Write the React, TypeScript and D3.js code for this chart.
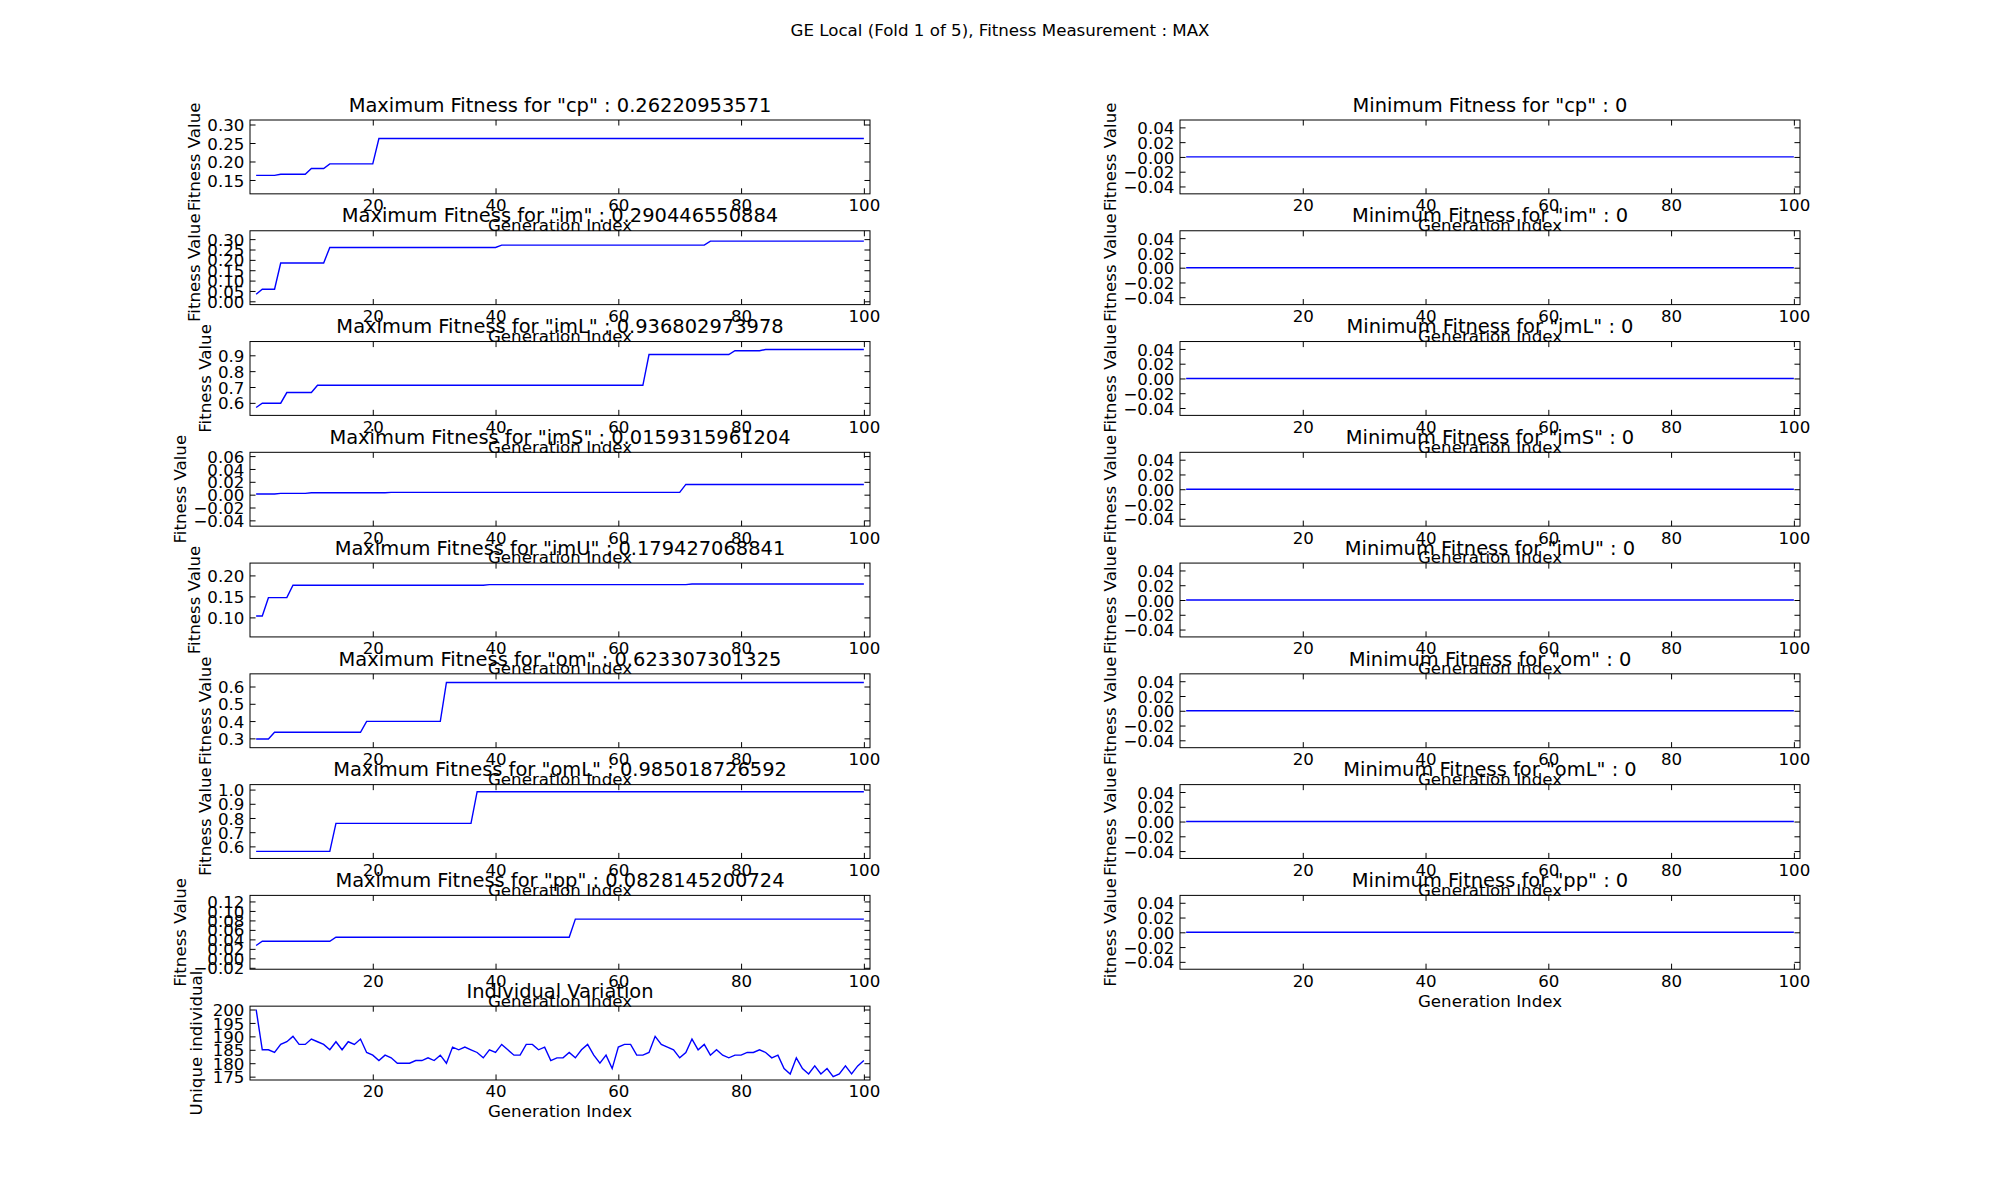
import { useEffect, useRef } from 'react';
import * as d3 from 'd3';

// figure text
const suptitle = 'GE Local (Fold 1 of 5), Fitness Measurement : MAX';
const datasets = ['cp', 'im', 'imL', 'imS', 'imU', 'om', 'omL', 'pp'];
const bestFitness = ['0.26220953571', '0.290446550884', '0.936802973978', '0.0159315961204',
    '0.179427068841', '0.623307301325', '0.985018726592', '0.0828145200724'];

// max fitness per generation, stored as runs: [first generation, last generation, value]
const cpMax = [[1, 4, 0.1625], [5, 9, 0.1655], [10, 12, 0.181], [13, 20, 0.1935], [21, 100, 0.2622]];
const imMax = [[1, 1, 0.034], [2, 4, 0.058], [5, 12, 0.185], [13, 40, 0.26], [41, 74, 0.271], [75, 100, 0.2904]];
const imLMax = [[1, 1, 0.571], [2, 5, 0.598], [6, 10, 0.665], [11, 64, 0.711], [65, 78, 0.905], [79, 83, 0.929], [84, 100, 0.9368]];
const imSMax = [[1, 4, 0.001], [5, 9, 0.002], [10, 22, 0.003], [23, 70, 0.0035], [71, 100, 0.0159]];
const imUMax = [[1, 2, 0.1035], [3, 6, 0.147], [7, 38, 0.1765], [39, 71, 0.178], [72, 100, 0.1794]];
const omMax = [[1, 3, 0.296], [4, 18, 0.335], [19, 31, 0.398], [32, 100, 0.6233]];
const omLMax = [[1, 13, 0.565], [14, 36, 0.762], [37, 100, 0.985]];
const ppMax = [[1, 1, 0.027], [2, 13, 0.036], [14, 52, 0.0445], [53, 100, 0.0828]];
const maxRuns = [cpMax, imMax, imLMax, imSMax, imUMax, omMax, omLMax, ppMax];

// min fitness is 0 for every dataset
const minFitness = [[1, 100, 0]];

const maxTicks = [
    [0.15, 0.2, 0.25, 0.3],
    [0, 0.05, 0.1, 0.15, 0.2, 0.25, 0.3],
    [0.6, 0.7, 0.8, 0.9],
    [-0.04, -0.02, 0, 0.02, 0.04, 0.06],
    [0.1, 0.15, 0.2],
    [0.3, 0.4, 0.5, 0.6],
    [0.6, 0.7, 0.8, 0.9, 1.0],
    [-0.02, 0, 0.02, 0.04, 0.06, 0.08, 0.1, 0.12],
];
const maxTickDecimals = [2, 2, 1, 2, 2, 1, 1, 2];
const minTicks = [-0.04, -0.02, 0, 0.02, 0.04];
const xTicks = [20, 40, 60, 80, 100];

// unique individuals per generation
const uniqueIndividuals = [
    200, 185, 185, 184, 187, 188, 190, 187, 187, 189,
    188, 187, 185, 188, 185, 188, 187, 189, 184, 183,
    181, 183, 182, 180, 180, 180, 181, 181, 182, 181,
    183, 180, 186, 185, 186, 185, 184, 182, 185, 184,
    187, 185, 183, 183, 187, 187, 185, 186, 181, 182,
    182, 184, 182, 185, 187, 183, 180, 183, 178, 186,
    187, 187, 183, 183, 184, 190, 187, 186, 185, 182,
    184, 189, 185, 187, 183, 185, 183, 182, 183, 183,
    184, 184, 185, 184, 182, 183, 178, 176, 182, 178,
    176, 179, 176, 178, 175, 176, 179, 176, 179, 181,
];
const uniqueTicks = [175, 180, 185, 190, 195, 200];

const W = 2000;
const H = 1200;
const FONT = 'DejaVu Sans';
const PT = 100 / 72;

const App = () => {
    const svgRef = useRef<SVGSVGElement | null>(null);

    useEffect(() => {
        const svg = d3.select(svgRef.current);
        svg.selectAll('*').remove();

        // subplot grid: 9 rows x 2 cols, mpl default params with hspace = wspace = 0.5
        const left = 0.125 * W, right = 0.9 * W, top = 0.1 * H, bottom = 0.9 * H;
        const rows = 9, cols = 2, gap = 0.5;
        const cellH = (bottom - top) / (rows + (rows - 1) * gap);
        const cellW = (right - left) / (cols + (cols - 1) * gap);

        svg.append('rect').attr('width', W).attr('height', H).attr('fill', 'white');

        svg.append('text')
            .attr('x', W / 2).attr('y', 36)
            .attr('text-anchor', 'middle')
            .attr('font-family', FONT).attr('font-size', 12 * PT)
            .text(suptitle);

        const x = d3.scaleLinear().domain([0, 101]);

        const drawPanel = (row: number, col: number, title: string, ylabel: string,
            pts: [number, number][], yDomain: number[], yTicks: number[], fmt: (v: number) => string,
            labelDescent: number) => {
            const x0 = left + col * cellW * (1 + gap);
            const y0 = top + row * cellH * (1 + gap);
            const xs = x.copy().range([x0, x0 + cellW]);
            const ys = d3.scaleLinear().domain(yDomain).range([y0 + cellH, y0]);
            const g = svg.append('g');
            const tick = 4 * PT;

            g.append('path')
                .datum(pts)
                .attr('fill', 'none')
                .attr('stroke', '#0000ff')
                .attr('stroke-width', 1.4)
                .attr('d', d3.line<[number, number]>().x(d => xs(d[0])).y(d => ys(d[1])));

            const style = (sel: any) => {
                sel.select('.domain').remove();
                sel.attr('font-family', FONT).attr('font-size', 12 * PT);
                sel.selectAll('line').attr('stroke', 'black').attr('stroke-width', 1);
                sel.selectAll('text').attr('fill', 'black');
            };

            g.append('g').attr('transform', `translate(0,${y0 + cellH})`)
                .call(d3.axisBottom(xs).tickValues(xTicks).tickSizeInner(-tick).tickSizeOuter(0).tickPadding(tick).tickFormat(d3.format('d')))
                .call(style);
            g.append('g').attr('transform', `translate(0,${y0})`)
                .call(d3.axisTop(xs).tickValues(xTicks).tickSizeInner(-tick).tickSizeOuter(0).tickFormat(() => ''))
                .call(style);
            const gy = g.append('g').attr('transform', `translate(${x0},0)`)
                .call(d3.axisLeft(ys).tickValues(yTicks).tickSizeInner(-tick).tickSizeOuter(0).tickPadding(tick).tickFormat(fmt as any))
                .call(style);
            gy.selectAll('text').attr('dy', '0.365em');
            g.append('g').attr('transform', `translate(${x0 + cellW},0)`)
                .call(d3.axisRight(ys).tickValues(yTicks).tickSizeInner(-tick).tickSizeOuter(0).tickFormat(() => ''))
                .call(style);

            g.append('rect')
                .attr('x', x0).attr('y', y0).attr('width', cellW).attr('height', cellH)
                .attr('fill', 'none').attr('stroke', 'black').attr('stroke-width', 1);

            // title and axis labels
            g.append('text')
                .attr('x', x0 + cellW / 2).attr('y', y0 - 6 * PT)
                .attr('text-anchor', 'middle')
                .attr('font-family', FONT).attr('font-size', 14 * PT)
                .text(title);
            g.append('text')
                .attr('x', x0 + cellW / 2).attr('y', y0 + cellH + 37.3)
                .attr('text-anchor', 'middle')
                .attr('font-family', FONT).attr('font-size', 12 * PT)
                .text('Generation Index');

            let minX = 0;
            gy.selectAll<SVGTextElement, unknown>('text').each(function () {
                const b = this.getBBox();
                minX = Math.min(minX, b.x);
            });
            const lx = x0 + minX - 5 * PT - labelDescent;
            g.append('text')
                .attr('transform', `translate(${lx},${y0 + cellH / 2}) rotate(-90)`)
                .attr('text-anchor', 'middle')
                .attr('font-family', FONT).attr('font-size', 12 * PT)
                .text(ylabel);
        };

        const runPoints = (runs: number[][]) =>
            runs.flatMap(([a, b, v]) => (a === b ? [[a, v]] : [[a, v], [b, v]])) as [number, number][];
        const fitDomain = (runs: number[][]) => [
            d3.min(runs, r => r[2])! - 0.05,
            d3.max(runs, r => r[2])! + 0.05,
        ];

        datasets.forEach((name, i) => {
            drawPanel(i, 0, `Maximum Fitness for "${name}" : ${bestFitness[i]}`, 'Fitness Value',
                runPoints(maxRuns[i]), fitDomain(maxRuns[i]), maxTicks[i],
                d3.format(`.${maxTickDecimals[i]}f`), 0);
            drawPanel(i, 1, `Minimum Fitness for "${name}" : 0`, 'Fitness Value',
                runPoints(minFitness), fitDomain(minFitness), minTicks, d3.format('.2f'), 0);
        });

        const [uMin, uMax] = d3.extent(uniqueIndividuals) as [number, number];
        const pad = (uMax - uMin) * 0.05;
        drawPanel(8, 0, 'Individual Variation', 'Unique individual',
            uniqueIndividuals.map((v, i) => [i + 1, v] as [number, number]),
            [uMin - pad, uMax + pad], uniqueTicks, d3.format('d'), 0.236 * 12 * PT);
    }, []);

    return (
        <svg ref={svgRef} width={W} height={H}
            style={{ position: 'absolute', left: 0, top: 0, display: 'block' }} />
    );
};

export default App;
